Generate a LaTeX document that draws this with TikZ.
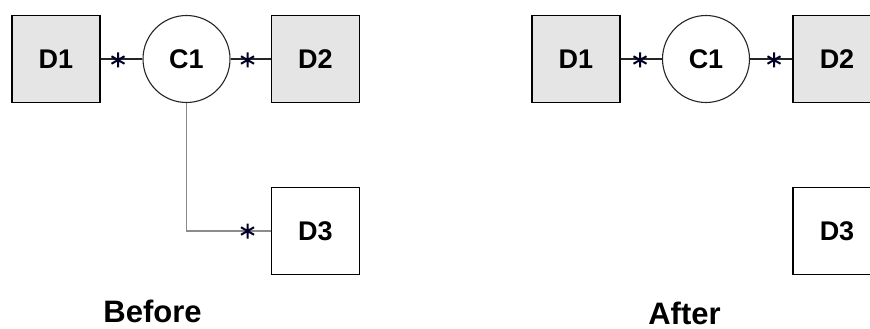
\documentclass[tikz,border=0pt]{standalone}
\usepackage{fontspec}
\setmainfont{Liberation Sans}
\begin{document}
\begin{tikzpicture}[x=1pt,y=-1pt,
  dev/.style={draw=black, line width=1.3pt, minimum width=88pt, minimum height=87pt, inner sep=0pt, font=\fontsize{27}{30}\selectfont\bfseries},
  filled/.style={fill=black!10},
  conn/.style={draw=black!85, line width=1.1pt, circle, minimum size=87pt, inner sep=0pt, fill=white, font=\fontsize{27}{30}\selectfont\bfseries},
  link/.style={line width=1.3pt, draw=black!85},
  glink/.style={line width=1.6pt, draw=black!45},
  captext/.style={font=\fontsize{31}{34}\selectfont\bfseries, inner sep=0pt, anchor=base},
  asterisk/.pic={\draw[line width=2pt, draw=black!85!blue] (0,-7.5) -- (0,7.5) (-6.5,-3.75) -- (6.5,3.75) (-6.5,3.75) -- (6.5,-3.75);}
]
\useasboundingbox (0,0) rectangle (870,329);
\clip (0,0) rectangle (870,329);

% Before
\node[dev,filled] (bD1) at (56,59) {D1};
\node[conn] (bC1) at (186.5,59) {C1};
\node[dev,filled] (bD2) at (315.5,59) {D2};
\node[dev] (bD3) at (315.5,231) {D3};
\coordinate (bK) at (bC1.south |- bD3.west);
\draw[link] (bD1.east) -- (bC1.west);
\draw[link] (bC1.east) -- (bD2.west);
\draw[glink] (bC1.south) -- (bK) -- (bD3.west);
\pic at (118,60) {asterisk};
\pic at (247.5,60) {asterisk};
\pic at (247.5,231) {asterisk};
\node[captext] (before) at (152.5,322.5) {Before};

% After
\node[dev,filled] (aD1) at (576,59) {D1};
\node[conn] (aC1) at (706,59) {C1};
\node[dev,filled] (aD2) at (837,59) {D2};
\node[dev] (aD3) at (837,231) {D3};
\draw[link] (aD1.east) -- (aC1.west);
\draw[link] (aC1.east) -- (aD2.west);
\pic at (640,60) {asterisk};
\pic at (774,60) {asterisk};
\node[captext] (after) at (684.5,324) {After};
\end{tikzpicture}
\end{document}
